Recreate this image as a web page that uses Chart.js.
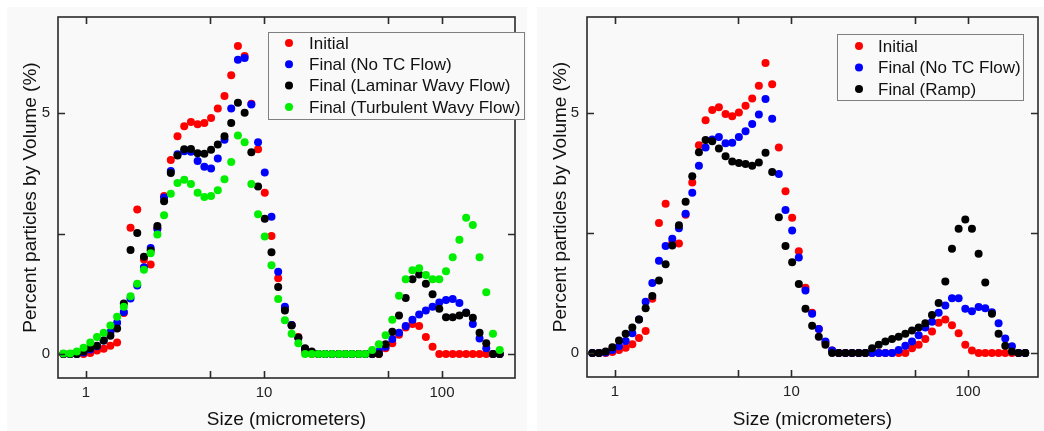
<!DOCTYPE html>
<html>
<head>
<meta charset="utf-8">
<script src="https://cdn.jsdelivr.net/npm/chart.js@4.4.0/dist/chart.umd.min.js"></script>
<style>
  html, body { margin: 0; padding: 0; background: #fff; }
  #wrap { position: relative; width: 1044px; height: 431px; overflow: hidden; }
  .panel { position: absolute; top: 7px; height: 424px; background: #f9f9f9; }
  #p1 { left: 7px; width: 520px; }
  #p2 { left: 537px; width: 507px; }
  #leftChart { position: absolute; left: 0; top: 0; }
  #rightChart { position: absolute; left: 530px; top: 0; }
</style>
</head>
<body>
<div id="wrap">
  <div class="panel" id="p1"></div>
  <div class="panel" id="p2"></div>
  <canvas id="leftChart" width="530" height="431"></canvas>
  <canvas id="rightChart" width="514" height="431"></canvas>
</div>
<script>
// particle size bins (micrometers), shared by both panels
var sizes = [
  0.7465, 0.8142, 0.8881, 0.9686, 1.0565, 1.1523, 1.2568, 1.3708, 1.4951, 1.6307,
  1.7786, 1.9399, 2.1159, 2.3078, 2.5171, 2.7454, 2.9944, 3.2660, 3.5622, 3.8853,
  4.2377, 4.6221, 5.0413, 5.4986, 5.9973, 6.5413, 7.1346, 7.7817, 8.4875, 9.2573,
  10.097, 11.013, 12.012, 13.101, 14.289, 15.585, 16.999, 18.541, 20.222, 22.056,
  24.057, 26.239, 28.619, 31.215, 34.046, 37.134, 40.502, 44.176, 48.182, 52.552,
  57.319, 62.518, 68.188, 74.373, 81.119, 88.476, 96.501, 105.25, 114.80, 125.21,
  136.57, 148.96, 162.47, 177.21, 193.28, 210.81
];

// left panel
var leftInitial = [
  0, 0, 0, 0, 0.02, 0.07, 0.11, 0.17, 0.24, 0.85,
  2.62, 3.00, 1.96, 1.86, 2.60, 3.28, 4.03, 4.52, 4.73, 4.82,
  4.77, 4.80, 4.90, 5.10, 5.36, 5.79, 6.40, 6.19, 5.20, 4.25,
  3.35, 2.45, 1.57, 0.95, 0.60, 0.35, 0.05, 0, 0, 0,
  0, 0, 0, 0, 0, 0, 0, 0, 0.12, 0.22,
  0.40, 0.55, 0.62, 0.58, 0.35, 0.15, 0, 0, 0, 0,
  0, 0, 0, 0, 0, 0
];
var leftNoTC = [
  0, 0, 0, 0.03, 0.09, 0.16, 0.28, 0.45, 0.65, 0.87,
  1.15, 1.42, 1.80, 2.20, 2.60, 3.25, 3.80, 4.15, 4.21, 4.20,
  4.01, 3.89, 3.85, 4.06, 4.45, 5.10, 6.11, 6.15, 5.18, 4.40,
  3.77, 2.85, 1.71, 0.98, 0.60, 0.33, 0.10, 0.03, 0, 0,
  0, 0, 0, 0, 0, 0, 0, 0.05, 0.15, 0.31,
  0.44, 0.58, 0.71, 0.82, 0.90, 0.98, 1.07, 1.12, 1.14, 1.06,
  0.86, 0.62, 0.32, 0.12, 0, 0
];
var leftLaminar = [
  0, 0, 0, 0.05, 0.12, 0.17, 0.28, 0.38, 0.53, 1.05,
  2.16, 2.51, 2.02, 2.15, 2.66, 3.17, 3.76, 4.12, 4.25, 4.26,
  4.17, 4.16, 4.24, 4.35, 4.52, 4.80, 5.22, 5.01, 4.19, 3.48,
  2.81, 2.11, 1.39, 0.90, 0.59, 0.34, 0.12, 0.05, 0, 0,
  0, 0, 0, 0, 0, 0, 0, 0, 0.20, 0.46,
  0.80, 1.16, 1.55, 1.65, 1.46, 1.24, 0.94, 0.76, 0.76, 0.80,
  0.85, 0.75, 0.44, 0.22, 0, 0
];
var leftTurbulent = [
  0.01, 0.01, 0.05, 0.13, 0.24, 0.35, 0.44, 0.59, 0.77, 0.98,
  1.20, 1.46, 1.75, 2.09, 2.48, 2.88, 3.33, 3.55, 3.62, 3.53,
  3.35, 3.26, 3.28, 3.40, 3.63, 3.99, 4.54, 4.40, 3.53, 2.90,
  2.44, 1.84, 1.14, 0.70, 0.42, 0.22, 0, 0, 0, 0,
  0, 0, 0, 0, 0, 0, 0.08, 0.20, 0.39, 0.71,
  1.21, 1.55, 1.74, 1.78, 1.64, 1.55, 1.55, 1.72, 2.01, 2.37,
  2.83, 2.68, 2.01, 1.28, 0.42, 0.08
];

// right panel
var rightInitial = [
  0, 0, 0, 0.02, 0.06, 0.11, 0.18, 0.31, 0.46, 1.13,
  2.71, 3.11, 2.30, 2.28, 2.88, 3.55, 4.33, 4.85, 5.06, 5.12,
  4.98, 4.93, 5.01, 5.15, 5.30, 5.57, 6.04, 5.60, 4.28, 3.37,
  2.82, 2.12, 1.36, 0.84, 0.50, 0.22, 0.05, 0, 0, 0,
  0, 0, 0, 0, 0, 0, 0, 0, 0.10, 0.17,
  0.29, 0.45, 0.63, 0.70, 0.58, 0.41, 0.17, 0.05, 0, 0,
  0, 0, 0, 0, 0, 0
];
var rightNoTC = [
  0, 0, 0.01, 0.06, 0.14, 0.25, 0.41, 0.70, 1.07, 1.46,
  1.92, 2.23, 2.38, 2.60, 2.90, 3.34, 3.90, 4.28, 4.45, 4.50,
  4.37, 4.38, 4.50, 4.62, 4.77, 4.97, 5.29, 4.88, 3.73, 2.98,
  2.55, 1.99, 1.30, 0.82, 0.50, 0.24, 0.05, 0, 0, 0,
  0, 0, 0, 0, 0, 0, 0.06, 0.15, 0.24, 0.37,
  0.53, 0.65, 0.84, 0.99, 1.14, 1.14, 0.92, 0.87, 0.96, 0.93,
  0.85, 0.62, 0.30, 0.14, 0, 0
];
var rightRamp = [
  0, 0, 0.03, 0.12, 0.26, 0.40, 0.53, 0.70, 0.93, 1.19,
  1.51, 1.85, 2.24, 2.66, 3.15, 3.68, 4.18, 4.44, 4.41, 4.26,
  4.10, 3.99, 3.96, 3.94, 3.90, 3.97, 4.17, 3.77, 2.83, 2.23,
  1.89, 1.44, 0.92, 0.57, 0.34, 0.17, 0, 0, 0, 0,
  0, 0, 0.10, 0.17, 0.24, 0.29, 0.34, 0.40, 0.47, 0.53,
  0.62, 0.79, 1.04, 1.49, 2.17, 2.59, 2.78, 2.59, 2.07, 1.47,
  0.82, 0.40, 0.15, 0.03, 0, 0
];

var xTicks = [1, 5, 10, 50, 100];
var xTickLabels = ['1', '', '10', '', '100'];
var yTicks = [0, 2.5, 5];
var yTickLabels = ['0', '', '5'];

var FONT = "'Liberation Sans', Arial, sans-serif";
Chart.defaults.font.family = FONT;
Chart.defaults.color = '#222';

function points(arr) {
  return sizes.map(function (x, i) { return { x: x, y: arr[i] }; });
}

function series(label, arr, color, order) {
  return {
    label: label, data: points(arr), order: order,
    backgroundColor: color, borderColor: color,
    pointRadius: 4, pointBorderWidth: 0, pointHoverRadius: 4
  };
}

// box frame with inward ticks on all four sides
var frameTicks = {
  id: 'frameTicks',
  afterDatasetsDraw: function (chart) {
    var ctx = chart.ctx, a = chart.chartArea, sx = chart.scales.x, sy = chart.scales.y;
    ctx.save();
    ctx.strokeStyle = '#2a2a2a';
    ctx.lineWidth = 1.6;
    ctx.strokeRect(a.left, a.top, a.right - a.left, a.bottom - a.top);
    ctx.beginPath();
    sx.ticks.forEach(function (t) {
      var px = Math.round(sx.getPixelForValue(t.value)) + 0.5;
      ctx.moveTo(px, a.bottom); ctx.lineTo(px, a.bottom - 7);
      ctx.moveTo(px, a.top); ctx.lineTo(px, a.top + 7);
    });
    sy.ticks.forEach(function (t) {
      var py = Math.round(sy.getPixelForValue(t.value)) + 0.5;
      ctx.moveTo(a.left, py); ctx.lineTo(a.left + 7, py);
      ctx.moveTo(a.right, py); ctx.lineTo(a.right - 7, py);
    });
    ctx.stroke();
    ctx.restore();
  }
};

// boxed legend inside the plot
var boxLegend = {
  id: 'boxLegend',
  afterDraw: function (chart, args, o) {
    var ctx = chart.ctx;
    ctx.save();
    ctx.fillStyle = '#f9f9f9';
    ctx.fillRect(o.x, o.y, o.w, o.h);
    ctx.strokeStyle = '#808080';
    ctx.lineWidth = 1;
    ctx.strokeRect(o.x + 0.5, o.y + 0.5, o.w, o.h);
    ctx.font = '17px ' + FONT;
    ctx.textBaseline = 'middle';
    chart.data.datasets.forEach(function (ds, i) {
      var cy = o.y + o.first + i * o.step;
      ctx.fillStyle = ds.backgroundColor;
      ctx.beginPath();
      ctx.arc(o.markX, cy, 4, 0, Math.PI * 2);
      ctx.fill();
      ctx.fillStyle = '#111';
      ctx.fillText(ds.label, o.textX, cy + 1);
    });
    ctx.restore();
  }
};

function makeOptions(xMax, yWidth, xHeight, pad, legendBox) {
  return {
    responsive: false,
    animation: false,
    events: [],
    layout: { padding: pad },
    plugins: { legend: { display: false }, tooltip: { enabled: false }, boxLegend: legendBox },
    scales: {
      x: {
        type: 'logarithmic', min: 0.696, max: xMax,
        grid: { display: false, drawTicks: false },
        border: { display: false },
        afterBuildTicks: function (s) { s.ticks = xTicks.map(function (v) { return { value: v }; }); },
        afterFit: function (s) { s.height = xHeight; },
        ticks: {
          autoSkip: false, maxRotation: 0, padding: 6, font: { size: 15 }, color: '#222',
          callback: function (v, i) { return xTickLabels[i]; }
        },
        title: { display: true, text: 'Size (micrometers)', font: { size: 19 }, color: '#111', padding: { top: 0, bottom: 0 } }
      },
      y: {
        type: 'linear', min: -0.5, max: 7,
        grid: { display: false, drawTicks: false },
        border: { display: false },
        afterBuildTicks: function (s) { s.ticks = yTicks.map(function (v) { return { value: v }; }); },
        afterFit: function (s) { s.width = yWidth; },
        ticks: {
          padding: 8, font: { size: 15 }, color: '#222',
          callback: function (v, i) { return yTickLabels[i]; }
        },
        title: { display: true, text: 'Percent particles by Volume (%)', font: { size: 19 }, color: '#111', padding: { top: 19, bottom: 0 } }
      }
    }
  };
}

new Chart(document.getElementById('leftChart'), {
  type: 'scatter',
  data: {
    datasets: [
      series('Initial', leftInitial, '#ff0000', 3),
      series('Final (No TC Flow)', leftNoTC, '#0000ff', 2),
      series('Final (Laminar Wavy Flow)', leftLaminar, '#000000', 1),
      series('Final (Turbulent Wavy Flow)', leftTurbulent, '#00ee00', 0)
    ]
  },
  options: makeOptions(257, 58, 53, { left: 0, top: 12, right: 15, bottom: 0 },
    { x: 268, y: 32, w: 256, h: 87, first: 11, step: 21.3, markX: 289, textX: 309 }),
  plugins: [frameTicks, boxLegend]
});

new Chart(document.getElementById('rightChart'), {
  type: 'scatter',
  data: {
    datasets: [
      series('Initial', rightInitial, '#ff0000', 2),
      series('Final (No TC Flow)', rightNoTC, '#0000ff', 1),
      series('Final (Ramp)', rightRamp, '#000000', 0)
    ]
  },
  options: makeOptions(249, 57, 54, { left: 0, top: 13, right: 6, bottom: 0 },
    { x: 307, y: 34, w: 186, h: 66, first: 12, step: 21.5, markX: 329, textX: 348 }),
  plugins: [frameTicks, boxLegend]
});
</script>
</body>
</html>
